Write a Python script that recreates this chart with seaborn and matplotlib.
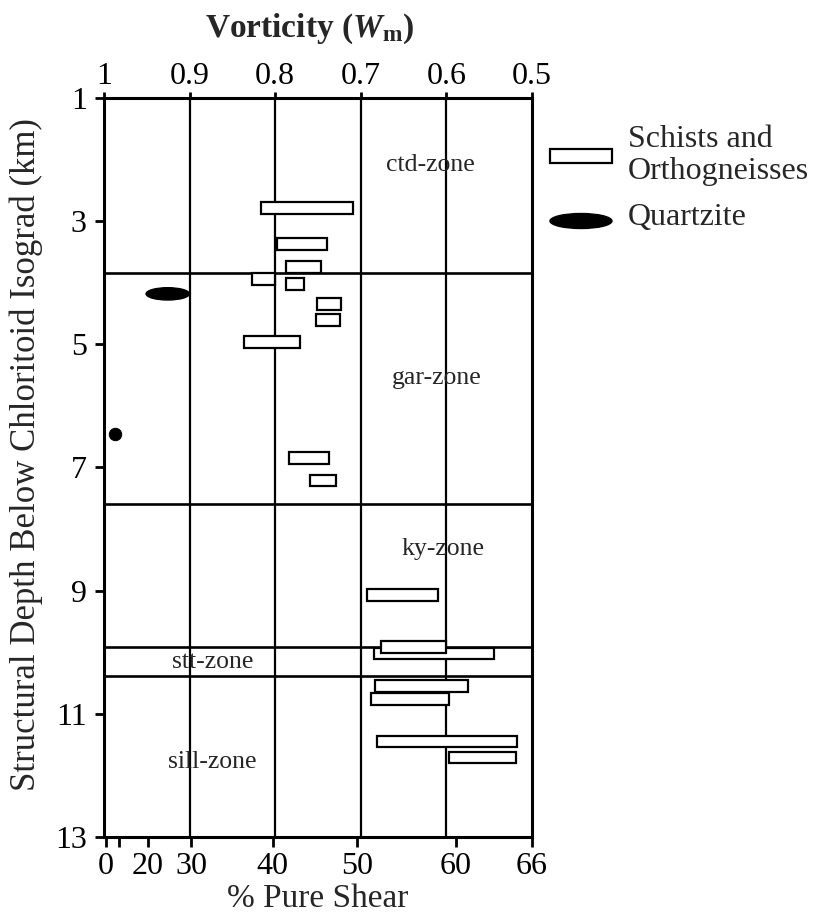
import matplotlib
matplotlib.use("Agg")
import matplotlib.pyplot as plt
import matplotlib.patches as mpatches
import seaborn as sns
import pandas as pd

# Data (vorticity Wm on x, structural depth in km on y)
schist_wm_high = [0.817, 0.798, 0.788, 0.827, 0.788, 0.751, 0.752, 0.836, 0.7835, 0.759,
                  0.693, 0.6846, 0.676, 0.684, 0.6885, 0.681, 0.597]
schist_wm_low = [0.709, 0.739, 0.747, 0.800, 0.766, 0.723, 0.724, 0.771, 0.7375, 0.729,
                 0.610, 0.544, 0.601, 0.575, 0.597, 0.517, 0.519]
schist_depth = [2.79, 3.37, 3.74, 3.94, 4.02, 4.35, 4.61, 4.96, 6.85, 7.21,
                9.07, 10.02, 9.91, 10.55, 10.76, 11.45, 11.71]

quartzite_wm = [0.9256]
quartzite_wm_width = [0.0506]
quartzite_depth = [4.18]
quartzite_dot_wm = [0.987]
quartzite_dot_depth = [6.45]

zone_boundaries = [3.84, 7.6, 9.92, 10.39]
zone_names = ['ctd-zone', 'gar-zone', 'ky-zone', 'stt-zone', 'sill-zone']
zone_label_wm = [0.619, 0.611, 0.604, 0.873, 0.874]
zone_label_depth = [2.09, 5.55, 8.32, 10.16, 11.78]

wm_ticks = [1, 0.9, 0.8, 0.7, 0.6, 0.5]
wm_ticklabels = ['1', '0.9', '0.8', '0.7', '0.6', '0.5']
shear_tick_wm = [0.998, 0.983, 0.949, 0.898, 0.803, 0.704, 0.589, 0.5]
shear_ticklabels = ['0', '', '20', '30', '40', '50', '60', '66']
depth_ticks = [1, 3, 5, 7, 9, 11, 13]

df = pd.DataFrame({'high': schist_wm_high, 'low': schist_wm_low, 'depth': schist_depth})

sns.set_style("ticks")
plt.rcParams['font.family'] = ['Liberation Serif', 'DejaVu Serif']
plt.rcParams['mathtext.fontset'] = 'custom'
plt.rcParams['mathtext.rm'] = 'Liberation Serif'
plt.rcParams['mathtext.it'] = 'Liberation Serif:italic'
plt.rcParams['mathtext.bf'] = 'Liberation Serif:bold'
plt.rcParams['mathtext.bfit'] = 'Liberation Serif:italic:bold'

fig = plt.figure(figsize=(8.16, 9.17), dpi=100)
ax = fig.add_axes([0.1275, 0.0873, 0.5245, 0.8058])
ax2 = ax.twiny()

# grid lines and zone boundaries
for w in wm_ticks[1:-1]:
    ax.axvline(w, color='black', lw=1.6, zorder=1)
for d in zone_boundaries:
    ax.axhline(d, color='black', lw=1.9, zorder=1)

# schist / orthogneiss bars
ax.barh(df['depth'], df['high'] - df['low'], left=df['low'], height=0.19,
        color='white', edgecolor='black', linewidth=1.6, zorder=3)

# quartzite
for w, ww, d in zip(quartzite_wm, quartzite_wm_width, quartzite_depth):
    ax.add_patch(mpatches.Ellipse((w, d), ww, 0.2, facecolor='black', edgecolor='black', zorder=4))
sns.scatterplot(x=quartzite_dot_wm, y=quartzite_dot_depth, ax=ax, color='black',
                s=80, edgecolor='black', zorder=4, legend=False)

for name, w, d in zip(zone_names, zone_label_wm, zone_label_depth):
    ax.text(w, d, name, fontsize=18.5, ha='center', va='center', zorder=5)

ax.set_xlim(1.0, 0.5)
ax.set_ylim(13, 1)
for s in ax.spines.values():
    s.set_linewidth(2.2)
    s.set_color('black')

# bottom axis: % pure shear
ax.xaxis.tick_bottom()
ax.xaxis.set_label_position('bottom')
ax.set_xticks(shear_tick_wm)
ax.set_xticklabels(shear_ticklabels)
ax.tick_params(axis='x', direction='out', length=7.5, width=2, labelsize=23, pad=3, colors='black')
ax.set_xlabel('% Pure Shear', fontsize=24, labelpad=2)

ax.set_yticks(depth_ticks)
ax.tick_params(axis='y', direction='out', length=6.5, width=2, labelsize=23, pad=6, colors='black')
ax.set_ylabel('Structural Depth Below Chloritoid Isograd (km)', fontsize=25)
ax.yaxis.set_label_coords(-0.142, 0.518)

# top axis: vorticity
ax2.set_xlim(ax.get_xlim())
ax2.xaxis.tick_top()
ax2.set_xticks(wm_ticks)
ax2.set_xticklabels(wm_ticklabels)
ax2.tick_params(axis='x', direction='out', length=4, width=2, labelsize=23, pad=1, colors='black')
for s in ax2.spines.values():
    s.set_visible(False)
fig.text(0.38, 1 - 37 / 917, r'Vorticity ($\mathbfit{W}_{\mathbf{m}}$)', fontsize=24,
         fontweight='bold', ha='center', va='baseline')

# legend
fig.add_artist(mpatches.Rectangle((0.674, 1 - 163 / 917), 0.076, 14 / 917, transform=fig.transFigure,
                                  facecolor='white', edgecolor='black', linewidth=1.6))
fig.text(0.7696, 1 - 147 / 917, 'Schists and', fontsize=23, va='baseline', ha='left')
fig.text(0.7696, 1 - 179 / 917, 'Orthogneisses', fontsize=23, va='baseline', ha='left')
fig.add_artist(mpatches.Ellipse((0.712, 1 - 221 / 917), 0.076, 15 / 917, transform=fig.transFigure,
                                facecolor='black', edgecolor='black'))
fig.text(0.7696, 1 - 225 / 917, 'Quartzite', fontsize=23, va='baseline', ha='left')

fig.savefig('out.png', dpi=100)
